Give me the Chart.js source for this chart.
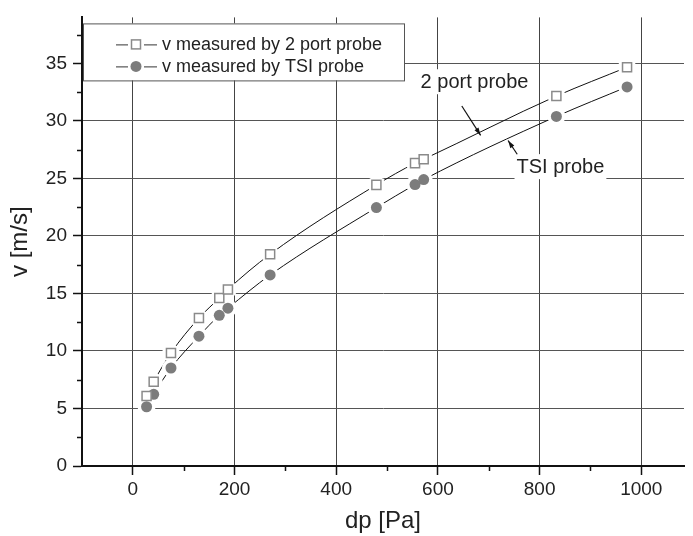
<!DOCTYPE html>
<html>
<head>
<meta charset="utf-8">
<script src="https://cdn.jsdelivr.net/npm/chart.js@4/dist/chart.umd.min.js"></script>
<style>
  html, body { margin: 0; padding: 0; background: #fff; }
  canvas { display: block; }
</style>
</head>
<body>
<canvas id="chart" width="693" height="536"></canvas>
<script>
// dp [Pa] at each measuring point (same for both probes)
const dpValues = [27, 41, 75, 130, 170, 187, 270, 479, 555, 572, 833, 972];
// velocity from the 2 port probe [m/s]
const vPort = [6.09, 7.32, 9.83, 12.86, 14.6, 15.35, 18.41, 24.44, 26.33, 26.67, 32.16, 34.67];
// velocity from the TSI probe [m/s]
const vTsi = [5.15, 6.23, 8.52, 11.29, 13.1, 13.72, 16.61, 22.47, 24.47, 24.9, 30.39, 32.96];

const xMajor = [0, 200, 400, 600, 800, 1000];
const xMinor = [100, 300, 500, 700, 900];
const yMajor = [0, 5, 10, 15, 20, 25, 30, 35];
const yMinor = [2.5, 7.5, 12.5, 17.5, 22.5, 27.5, 32.5, 37.5];

const legendLabels = ['v measured by 2 port probe', 'v measured by TSI probe'];

const FONT = '"Liberation Sans", Arial, sans-serif';
const INK = '#222';
const SQUARE_EDGE = '#8a8a8a';
const DOT_FILL = '#7c7c7c';

const pts = vals => dpValues.map((x, i) => ({ x, y: vals[i] }));

// short minor ticks on both axes
const minorTicks = {
  id: 'minorTicks',
  afterDraw(chart) {
    const { ctx, chartArea, scales } = chart;
    ctx.save();
    ctx.strokeStyle = '#111';
    ctx.lineWidth = 1.5;
    ctx.beginPath();
    xMinor.forEach(v => {
      const px = Math.round(scales.x.getPixelForValue(v)) + 0.5;
      ctx.moveTo(px, chartArea.bottom);
      ctx.lineTo(px, chartArea.bottom + 5);
    });
    yMinor.forEach(v => {
      const py = Math.round(scales.y.getPixelForValue(v)) + 0.5;
      ctx.moveTo(chartArea.left, py);
      ctx.lineTo(chartArea.left - 5, py);
    });
    ctx.stroke();
    ctx.restore();
  }
};

function drawSquare(ctx, x, y) {
  ctx.fillStyle = '#fff';
  ctx.strokeStyle = SQUARE_EDGE;
  ctx.lineWidth = 1.5;
  ctx.fillRect(x - 4.5, y - 4.5, 9, 9);
  ctx.strokeRect(x - 4.5, y - 4.5, 9, 9);
}

function drawDot(ctx, x, y) {
  ctx.fillStyle = DOT_FILL;
  ctx.beginPath();
  ctx.arc(x, y, 5.5, 0, Math.PI * 2);
  ctx.fill();
}

// framed legend in the upper left corner of the plot
const boxLegend = {
  id: 'boxLegend',
  afterDraw(chart) {
    const { ctx, chartArea } = chart;
    const left = chartArea.left + 1, top = chartArea.top + 6;
    const w = 321, h = 57;
    ctx.save();
    ctx.fillStyle = '#fff';
    ctx.fillRect(left, top, w, h);
    ctx.strokeStyle = '#555';
    ctx.lineWidth = 1;
    ctx.strokeRect(left + 0.5, top + 0.5, w, h);
    ctx.font = '18px ' + FONT;
    ctx.textBaseline = 'middle';
    legendLabels.forEach((txt, i) => {
      const y = top + 21 + i * 22;
      const mx = left + 53;
      ctx.strokeStyle = '#333';
      ctx.lineWidth = 1;
      ctx.beginPath();
      ctx.moveTo(left + 33, y + 0.5);
      ctx.lineTo(mx - 8, y + 0.5);
      ctx.moveTo(mx + 8, y + 0.5);
      ctx.lineTo(left + 74, y + 0.5);
      ctx.stroke();
      if (i === 0) drawSquare(ctx, mx, y); else drawDot(ctx, mx, y);
      ctx.fillStyle = INK;
      ctx.fillText(txt, left + 79, y + 1);
    });
    ctx.restore();
  }
};

// curve labels with arrows, placed in data units
const curveNotes = [
  { text: '2 port probe', at: [672, 33.45], from: [647, 31.3], to: [684, 28.75] },
  { text: 'TSI probe', at: [841, 26.07], from: [756, 27.1], to: [738, 28.3] }
];

const curveLabels = {
  id: 'curveLabels',
  afterDraw(chart) {
    const { ctx, scales } = chart;
    const px = p => [scales.x.getPixelForValue(p[0]), scales.y.getPixelForValue(p[1])];
    ctx.save();
    ctx.font = '20px ' + FONT;
    ctx.textAlign = 'center';
    ctx.textBaseline = 'middle';
    curveNotes.forEach(n => {
      const [cx, cy] = px(n.at);
      const tw = ctx.measureText(n.text).width;
      ctx.fillStyle = '#fff';
      ctx.fillRect(cx - tw / 2 - 2, cy - 12, tw + 4, 25);
      ctx.fillStyle = INK;
      ctx.fillText(n.text, cx, cy + 1);

      const [x1, y1] = px(n.from);
      const [x2, y2] = px(n.to);
      const ang = Math.atan2(y2 - y1, x2 - x1);
      ctx.strokeStyle = '#111';
      ctx.lineWidth = 1.2;
      ctx.beginPath();
      ctx.moveTo(x1, y1);
      ctx.lineTo(x2, y2);
      ctx.stroke();
      ctx.fillStyle = '#111';
      ctx.beginPath();
      ctx.moveTo(x2, y2);
      ctx.lineTo(x2 - 8 * Math.cos(ang - 0.3), y2 - 8 * Math.sin(ang - 0.3));
      ctx.lineTo(x2 - 8 * Math.cos(ang + 0.3), y2 - 8 * Math.sin(ang + 0.3));
      ctx.closePath();
      ctx.fill();
    });
    ctx.restore();
  }
};

const lineSet = (vals, order) => ({
  data: pts(vals),
  showLine: true,
  borderColor: '#111',
  borderWidth: 1,
  cubicInterpolationMode: 'monotone',
  pointRadius: 0,
  order
});

// white discs leave a gap in the curve around each symbol
const gapSet = (vals, order) => ({
  data: pts(vals),
  showLine: false,
  pointRadius: 9,
  pointBackgroundColor: '#fff',
  pointBorderColor: '#fff',
  pointBorderWidth: 0,
  order
});

new Chart(document.getElementById('chart'), {
  type: 'scatter',
  data: {
    datasets: [
      {
        label: legendLabels[0],
        data: pts(vPort),
        pointStyle: 'rect',
        pointRadius: 6.4,
        pointBackgroundColor: '#fff',
        pointBorderColor: SQUARE_EDGE,
        pointBorderWidth: 1.5,
        order: 0
      },
      {
        label: legendLabels[1],
        data: pts(vTsi),
        pointStyle: 'circle',
        pointRadius: 5.5,
        pointBackgroundColor: DOT_FILL,
        pointBorderColor: DOT_FILL,
        pointBorderWidth: 0,
        order: 1
      },
      gapSet(vPort, 2),
      gapSet(vTsi, 3),
      lineSet(vPort, 4),
      lineSet(vTsi, 5)
    ]
  },
  options: {
    responsive: false,
    animation: false,
    layout: { padding: { top: 10, right: 0, left: 0, bottom: 0 } },
    plugins: {
      legend: { display: false },
      tooltip: { enabled: false }
    },
    scales: {
      x: {
        type: 'linear',
        min: -100,
        max: 1084,
        afterBuildTicks: s => { s.ticks = xMajor.map(value => ({ value })); },
        afterFit: s => { s.height = 70; },
        grid: { color: '#444', lineWidth: 1, tickLength: 9, tickColor: '#111', tickWidth: 1.5 },
        border: { display: true, color: '#111', width: 2 },
        ticks: { color: INK, font: { family: FONT, size: 19 }, padding: 3, maxRotation: 0, callback: v => String(v) },
        title: { display: true, text: 'dp [Pa]', color: INK, font: { family: FONT, size: 24 }, padding: { top: 0, bottom: 0 } }
      },
      y: {
        type: 'linear',
        min: 0,
        max: 39,
        afterBuildTicks: s => { s.ticks = yMajor.map(value => ({ value })); },
        afterFit: s => { s.width = 82; },
        grid: { color: '#555', lineWidth: 1, tickLength: 9, tickColor: '#111', tickWidth: 1.5 },
        border: { display: true, color: '#111', width: 2 },
        ticks: { color: INK, font: { family: FONT, size: 19 }, padding: 6, callback: v => String(v) },
        title: { display: true, text: 'v [m/s]', color: INK, font: { family: FONT, size: 24 }, padding: { top: 6, bottom: 0 } }
      }
    }
  },
  plugins: [minorTicks, boxLegend, curveLabels]
});
</script>
</body>
</html>
